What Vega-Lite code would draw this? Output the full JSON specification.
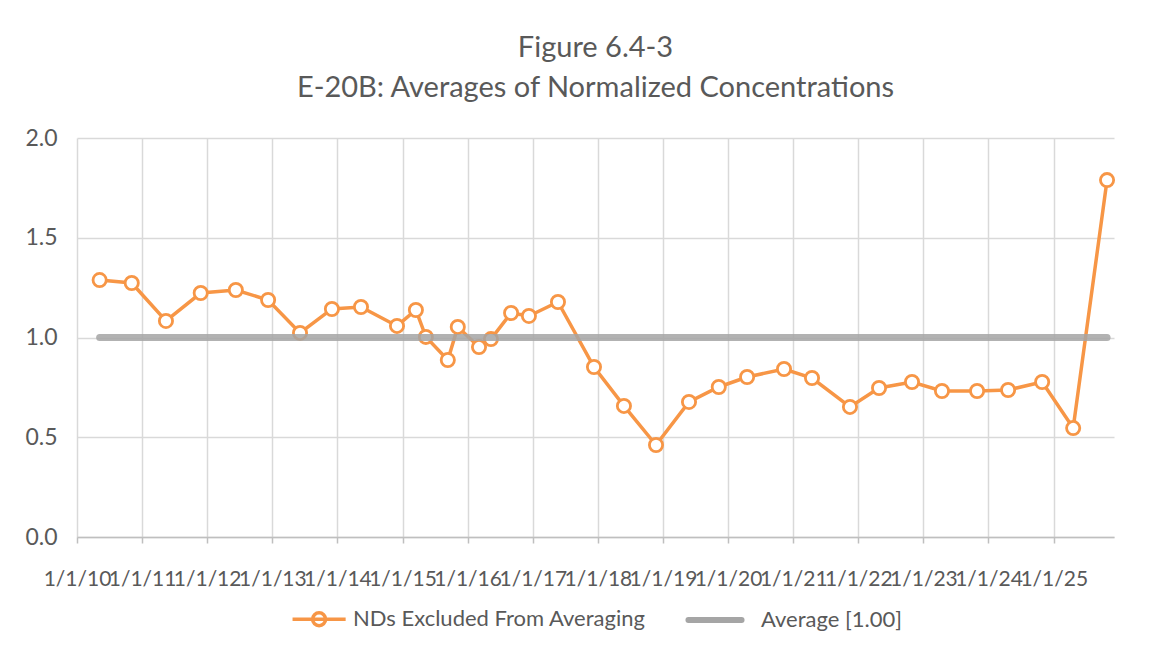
{
  "$schema": "https://vega.github.io/schema/vega-lite/v6.json",
  "autosize": "none",
  "width": 1037,
  "height": 399,
  "padding": {"left": 77, "top": 138, "right": 60, "bottom": 116},
  "background": "white",
  "config": {
    "font": "Lato",
    "view": {"stroke": null}
  },
  "title": {
    "text": ["Figure 6.4-3", "E-20B: Averages of Normalized Concentrations"],
    "fontSize": 29,
    "fontWeight": "normal",
    "color": "#595959",
    "lineHeight": 40,
    "anchor": "middle",
    "offset": 24
  },
  "datasets": {
    "nd": [
      {"date": "2010-05-08", "value": 1.288, "series": "NDs Excluded From Averaging"},
      {"date": "2010-11-04", "value": 1.273, "series": "NDs Excluded From Averaging"},
      {"date": "2011-05-15", "value": 1.083, "series": "NDs Excluded From Averaging"},
      {"date": "2011-11-26", "value": 1.223, "series": "NDs Excluded From Averaging"},
      {"date": "2012-06-10", "value": 1.238, "series": "NDs Excluded From Averaging"},
      {"date": "2012-12-08", "value": 1.188, "series": "NDs Excluded From Averaging"},
      {"date": "2013-06-05", "value": 1.023, "series": "NDs Excluded From Averaging"},
      {"date": "2013-12-01", "value": 1.143, "series": "NDs Excluded From Averaging"},
      {"date": "2014-05-13", "value": 1.153, "series": "NDs Excluded From Averaging"},
      {"date": "2014-12-01", "value": 1.058, "series": "NDs Excluded From Averaging"},
      {"date": "2015-03-17", "value": 1.138, "series": "NDs Excluded From Averaging"},
      {"date": "2015-05-12", "value": 1.003, "series": "NDs Excluded From Averaging"},
      {"date": "2015-09-12", "value": 0.887, "series": "NDs Excluded From Averaging"},
      {"date": "2015-11-07", "value": 1.053, "series": "NDs Excluded From Averaging"},
      {"date": "2016-03-05", "value": 0.952, "series": "NDs Excluded From Averaging"},
      {"date": "2016-05-11", "value": 0.992, "series": "NDs Excluded From Averaging"},
      {"date": "2016-09-01", "value": 1.123, "series": "NDs Excluded From Averaging"},
      {"date": "2016-12-10", "value": 1.108, "series": "NDs Excluded From Averaging"},
      {"date": "2017-05-22", "value": 1.178, "series": "NDs Excluded From Averaging"},
      {"date": "2017-12-10", "value": 0.852, "series": "NDs Excluded From Averaging"},
      {"date": "2018-05-27", "value": 0.657, "series": "NDs Excluded From Averaging"},
      {"date": "2018-11-23", "value": 0.461, "series": "NDs Excluded From Averaging"},
      {"date": "2019-05-27", "value": 0.677, "series": "NDs Excluded From Averaging"},
      {"date": "2019-11-10", "value": 0.752, "series": "NDs Excluded From Averaging"},
      {"date": "2020-04-17", "value": 0.802, "series": "NDs Excluded From Averaging"},
      {"date": "2020-11-10", "value": 0.842, "series": "NDs Excluded From Averaging"},
      {"date": "2021-04-16", "value": 0.797, "series": "NDs Excluded From Averaging"},
      {"date": "2021-11-15", "value": 0.652, "series": "NDs Excluded From Averaging"},
      {"date": "2022-04-27", "value": 0.747, "series": "NDs Excluded From Averaging"},
      {"date": "2022-10-29", "value": 0.777, "series": "NDs Excluded From Averaging"},
      {"date": "2023-04-15", "value": 0.732, "series": "NDs Excluded From Averaging"},
      {"date": "2023-10-29", "value": 0.732, "series": "NDs Excluded From Averaging"},
      {"date": "2024-04-20", "value": 0.737, "series": "NDs Excluded From Averaging"},
      {"date": "2024-10-28", "value": 0.777, "series": "NDs Excluded From Averaging"},
      {"date": "2025-04-20", "value": 0.546, "series": "NDs Excluded From Averaging"},
      {"date": "2025-10-27", "value": 1.789, "series": "NDs Excluded From Averaging"}
    ],
    "avg": [
      {"date": "2010-05-08", "value": 1.0, "series": "Average [1.00]"},
      {"date": "2025-10-27", "value": 1.0, "series": "Average [1.00]"}
    ]
  },
  "encoding": {
    "x": {
      "field": "date",
      "type": "temporal",
      "scale": {"type": "utc", "domain": [{"year": 2010, "month": 1, "date": 1, "utc": true}, {"year": 2025, "month": 12, "date": 5, "utc": true}], "nice": false},
      "axis": {
        "title": null,
        "format": "%-m/%-d/%y",
        "values": [
          {"year": 2010, "month": 1, "date": 1, "utc": true},
          {"year": 2011, "month": 1, "date": 1, "utc": true},
          {"year": 2012, "month": 1, "date": 1, "utc": true},
          {"year": 2013, "month": 1, "date": 1, "utc": true},
          {"year": 2014, "month": 1, "date": 1, "utc": true},
          {"year": 2015, "month": 1, "date": 1, "utc": true},
          {"year": 2016, "month": 1, "date": 1, "utc": true},
          {"year": 2017, "month": 1, "date": 1, "utc": true},
          {"year": 2018, "month": 1, "date": 1, "utc": true},
          {"year": 2019, "month": 1, "date": 1, "utc": true},
          {"year": 2020, "month": 1, "date": 1, "utc": true},
          {"year": 2021, "month": 1, "date": 1, "utc": true},
          {"year": 2022, "month": 1, "date": 1, "utc": true},
          {"year": 2023, "month": 1, "date": 1, "utc": true},
          {"year": 2024, "month": 1, "date": 1, "utc": true},
          {"year": 2025, "month": 1, "date": 1, "utc": true}
        ],
        "labelOverlap": false,
        "labelFontSize": 21,
        "labelColor": "#595959",
        "labelPadding": 25,
        "labelFlush": false,
        "domainColor": "#bfbfbf",
        "domainWidth": 1.5,
        "tickColor": "#bfbfbf",
        "tickSize": 6,
        "tickWidth": 1.5,
        "grid": true,
        "gridColor": "#d9d9d9",
        "gridWidth": 1.5
      }
    },
    "y": {
      "field": "value",
      "type": "quantitative",
      "scale": {"domain": [0, 2], "nice": false, "zero": true},
      "axis": {
        "title": null,
        "values": [0, 0.5, 1, 1.5, 2],
        "format": ".1f",
        "labelFontSize": 23,
        "labelColor": "#595959",
        "labelPadding": 20,
        "domain": false,
        "ticks": false,
        "grid": true,
        "gridColor": "#d9d9d9",
        "gridWidth": 1.5
      }
    }
  },
  "layer": [
    {
      "data": {"name": "nd"},
      "mark": {"type": "line", "strokeWidth": 3.5},
      "encoding": {
        "color": {
          "field": "series",
          "type": "nominal",
          "scale": {
            "domain": ["NDs Excluded From Averaging", "Average [1.00]"],
            "range": ["#F79646", "#A5A5A5"]
          },
          "legend": {
            "title": null,
            "orient": "none",
            "legendX": 219,
            "legendY": 470,
            "direction": "horizontal",
            "labelFontSize": 22,
            "labelColor": "#595959",
            "labelLimit": 500,
            "symbolSize": 3481,
            "columnPadding": 30,
            "labelOffset": 35,
            "symbolStrokeWidth": 3.5,
            "encode": {
              "symbols": {
                "update": {
                  "shape": {"signal": "datum.value === 'Average [1.00]' ? 'M-0.9,0H0.9' : 'M-0.49,0H1.31M0.19,0A0.22,0.22 0 1,0 0.63,0A0.22,0.22 0 1,0 0.19,0'"},
                  "strokeWidth": {"signal": "datum.value === 'Average [1.00]' ? 6 : 3.5"},
                  "strokeCap": {"signal": "datum.value === 'Average [1.00]' ? 'round' : 'butt'"},
                  "fill": {"value": "transparent"}
                }
              }
            }
          }
        }
      }
    },
    {
      "data": {"name": "nd"},
      "mark": {"type": "point", "shape": "circle", "filled": false, "fill": "white", "fillOpacity": 1, "stroke": "#F79646", "strokeWidth": 2.8, "size": 175, "opacity": 1}
    },
    {
      "data": {"name": "avg"},
      "mark": {"type": "line", "strokeWidth": 7, "strokeCap": "round", "opacity": 0.85},
      "encoding": {
        "color": {"field": "series", "type": "nominal"}
      }
    }
  ]
}
